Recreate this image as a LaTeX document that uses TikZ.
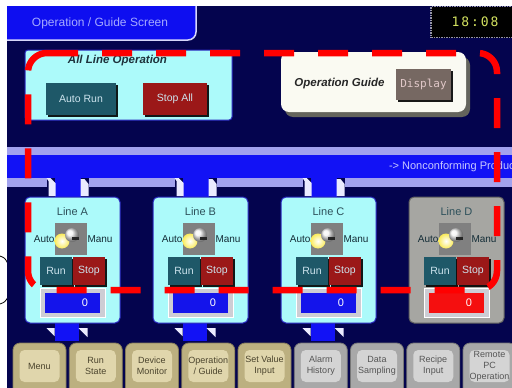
\documentclass[tikz,border=0pt]{standalone}
\usepackage{fontspec}
\setmainfont{Liberation Sans}
\setmonofont{DejaVu Sans Mono}
\newfontfamily\clockfont{DejaVu Sans Mono}[LetterSpace=15]
\usetikzlibrary{positioning,calc,shadows}
\definecolor{screencolor}{RGB}{4,4,78}
\definecolor{tabcolor}{RGB}{14,14,240}
\definecolor{tabrim}{RGB}{215,215,250}
\definecolor{tabtext}{RGB}{165,170,255}
\definecolor{clockrim}{RGB}{150,150,165}
\definecolor{clockdigit}{RGB}{210,225,95}
\definecolor{panelcyan}{RGB}{172,250,250}
\definecolor{panelrim}{RGB}{40,40,190}
\definecolor{panelgrey}{RGB}{166,166,162}
\definecolor{greyrim}{RGB}{95,95,95}
\definecolor{boxtext}{RGB}{30,50,60}
\definecolor{guidecolor}{RGB}{250,250,242}
\definecolor{guideshadow}{RGB}{100,100,92}
\definecolor{runcolor}{RGB}{30,88,104}
\definecolor{stopcolor}{RGB}{155,24,24}
\definecolor{btntext}{RGB}{205,228,238}
\definecolor{dispcolor}{RGB}{118,104,98}
\definecolor{disptext}{RGB}{225,200,200}
\definecolor{bandcolor}{RGB}{18,18,245}
\definecolor{railcolor}{RGB}{162,162,238}
\definecolor{flowcolor}{RGB}{200,200,255}
\definecolor{titlecolor}{RGB}{45,80,90}
\definecolor{labelcolor}{RGB}{20,45,55}
\definecolor{switchgrey}{RGB}{128,128,128}
\definecolor{glow}{RGB}{250,235,90}
\definecolor{framegrey}{RGB}{205,205,212}
\definecolor{countblue}{RGB}{20,20,235}
\definecolor{countred}{RGB}{245,15,15}
\definecolor{keygold}{RGB}{188,176,128}
\definecolor{keygoldface}{RGB}{224,214,172}
\definecolor{keygoldtext}{RGB}{75,68,45}
\definecolor{keygrey}{RGB}{168,168,168}
\definecolor{keygreyface}{RGB}{212,212,212}
\definecolor{keygreytext}{RGB}{85,85,85}
\definecolor{markred}{RGB}{255,0,0}

\begin{document}
\begin{tikzpicture}[
    x=1pt, y=-1pt,
    every node/.style={inner sep=0pt, outer sep=0pt},
    tabtitle/.style={font=\fontsize{12}{14}\selectfont, text=tabtext},
    clock/.style={rectangle, fill=black, draw=clockrim, densely dotted, line width=1.5pt, minimum width=88pt, minimum height=31pt, text=clockdigit, font=\clockfont\fontsize{13}{14}\selectfont},
    allbox/.style={rectangle, rounded corners=3pt, fill=panelcyan, draw=panelrim, line width=1pt, minimum width=207pt, minimum height=70pt},
    guidebox/.style={rectangle, rounded corners=8pt, fill=guidecolor, minimum width=185pt, minimum height=60pt, drop shadow={shadow xshift=4pt, shadow yshift=-5pt, fill=guideshadow, opacity=1}},
    boxtitle/.style={font=\fontsize{11.5}{13}\selectfont\bfseries\itshape, text=boxtext},
    opbtn/.style={rectangle, minimum height=32pt, font=\fontsize{10.5}{12}\selectfont, text=btntext, drop shadow={shadow xshift=2pt, shadow yshift=-2pt, fill=black, opacity=0.9}},
    dispbtn/.style={opbtn, fill=dispcolor, minimum width=55pt, minimum height=31pt, text=disptext, font=\ttfamily\fontsize{11}{12}\selectfont},
    flowtext/.style={font=\fontsize{11}{13}\selectfont, text=flowcolor},
    bevel/.style={fill=white!92!blue},
    linebox/.style={rectangle, rounded corners=5pt, line width=1pt, minimum width=95pt, minimum height=126pt},
    linetitle/.style={font=\fontsize{11}{13}\selectfont, text=titlecolor},
    sidelabel/.style={font=\fontsize{10}{12}\selectfont, text=labelcolor},
    switchbox/.style={rectangle, fill=switchgrey, minimum width=32pt, minimum height=32pt},
    linebtn/.style={rectangle, minimum width=32pt, minimum height=28pt, font=\fontsize{10.5}{12}\selectfont, text=btntext, drop shadow={shadow xshift=2pt, shadow yshift=-2pt, fill=black, opacity=0.9}},
    countframe/.style={rectangle, fill=framegrey, draw=white, line width=1pt, minimum width=65pt, minimum height=29pt},
    countfield/.style={rectangle, minimum width=55pt, minimum height=20pt, text width=31pt, align=right, text=white, font=\fontsize{11}{12}\selectfont},
    key/.style={rectangle, rounded corners=7pt, minimum width=53pt, minimum height=62pt, line width=0.8pt},
    keyface/.style={rectangle, rounded corners=5pt, minimum width=40pt, minimum height=32pt, align=center, font=\fontsize{9}{11}\selectfont},
    callout/.style={draw=black, line width=0.8pt},
    guide/.style={draw=markred, line width=6.5pt, dash pattern=on 30pt off 24pt, rounded corners=19pt}
]
\useasboundingbox (0,0) rectangle (512,388);

% ===== CALLOUT MARKS =====
\coordinate (markA) at (0,256);
\coordinate (markB) at (8,264);
\coordinate (markC) at (0,304);
\coordinate (markD) at (8,297);
\draw[callout] (markA) .. controls (5,258) .. (markB);
\draw[callout] (markC) .. controls (5,302) .. (markD);

\begin{scope}
\clip (7,6) rectangle (512,388);
\fill[screencolor] (7,6) rectangle (512,388);

% ===== HEADER =====
\fill[tabcolor, draw=tabrim, line width=1.5pt, rounded corners=8pt] (-10,-10) rectangle (196,40);
\node[tabtitle] (screentitle) at (100,23) {Operation / Guide Screen};
\node[clock] (clock) at (475,22) {18:08};

% ===== ALL LINE OPERATION =====
\node[allbox] (allpanel) at (128.5,85) {};
\node[boxtitle] (alltitle) at (117.5,61) {All Line Operation};
\node[opbtn, fill=runcolor, minimum width=70pt] (autorun) at (81,99) {Auto Run};
\node[opbtn, fill=stopcolor, minimum width=64pt] (stopall) at (175,99) {Stop All};

% ===== OPERATION GUIDE =====
\node[guidebox] (guidepanel) at (373.5,82) {};
\node[boxtitle, text=black!85] (guidetitle) at (339.5,84) {Operation Guide};
\node[dispbtn] (display) at (423.5,84.5) {Display};

% ===== CONVEYOR =====
\fill[railcolor] (7,147) rectangle (512,187);
\fill[bandcolor] (7,155) rectangle (512,178);
\node[flowtext, anchor=west] (reject) at (389,167) {-> Nonconforming Product};

% drops to the running lines and down to the keys
\foreach \cx in {72.5,200.5,328.5} {
    \fill[screencolor] (\cx-26,178) rectangle (\cx+16,188);
    \fill[bandcolor] (\cx-18,178) rectangle (\cx+8,199);
    \fill[bevel] (\cx-26,178) -- (\cx-22,178) -- (\cx-17,183) -- (\cx-17,196) -- (\cx-24,196) -- (\cx-24,181) -- cycle;
    \fill[bevel] (\cx+8,179) -- (\cx+12,179) -- (\cx+16,184) -- (\cx+16,196) -- (\cx+8,196) -- cycle;
    \fill[bandcolor] (\cx-18,322) rectangle (\cx+6,341);
    \fill[bevel] (\cx-26,328) -- (\cx-18,328) -- (\cx-18,336) -- cycle;
    \fill[bevel] (\cx+6,328) -- (\cx+15,328) -- (\cx+15,337) -- cycle;
}

% ===== LINE PANELS =====
\foreach \l/\cx/\pfill/\prim/\cfill in {A/72.5/panelcyan/panelrim/countblue, B/200.5/panelcyan/panelrim/countblue, C/328.5/panelcyan/panelrim/countblue, D/456.5/panelgrey/greyrim/countred} {
    \node[linebox, fill=\pfill, draw=\prim] (line\l) at (\cx,260) {};
    \node[linetitle] (title\l) at ($(line\l.north)+(0,15)$) {Line \l};
    \node[switchbox] (switch\l) at ($(line\l.center)+(-1.5,-21)$) {};
    \shade[inner color=white, outer color=glow] ($(switch\l.center)+(-9,2)$) circle (7.5);
    \shade[ball color=white!90!gray] ($(switch\l.center)+(1,-4)$) circle (7);
    \fill[black!85] ($(switch\l.center)+(1,-2)$) rectangle ($(switch\l.center)+(8,1)$);
    \node[sidelabel, left=0.5pt of switch\l] (auto\l) {Auto};
    \node[sidelabel, right=0.5pt of switch\l] (manu\l) {Manu};
    \node[linebtn, fill=runcolor] (run\l) at ($(line\l.center)+(-16.5,11)$) {Run};
    \node[linebtn, fill=stopcolor, right=1pt of run\l] (stop\l) {Stop};
    \node[countframe] (frame\l) at ($(line\l.center)+(0,42.5)$) {};
    \node[countfield, fill=\cfill] (count\l) at (frame\l) {0};
}

% ===== MENU KEYS =====
\foreach \txt/\kc/\kf/\kt [count=\i from 0] in {
    Menu/keygold/keygoldface/keygoldtext,
    {Run\\State}/keygold/keygoldface/keygoldtext,
    {Device\\Monitor}/keygold/keygoldface/keygoldtext,
    {Operation\\/ Guide}/keygold/keygoldface/keygoldtext,
    {Set Value\\Input}/keygold/keygoldface/keygoldtext,
    {Alarm\\History}/keygrey/keygreyface/keygreytext,
    {Data\\Sampling}/keygrey/keygreyface/keygreytext,
    {Recipe\\Input}/keygrey/keygreyface/keygreytext,
    {Remote\\PC\\Operation}/keygrey/keygreyface/keygreytext} {
    \node[key, fill=\kc, draw=\kc!70!black] (key\i) at (39.5+56.25*\i,374) {};
    \node[keyface, fill=\kf, text=\kt] (face\i) at (39.5+56.25*\i,366) {\txt};
}

% ===== GUIDE MARK =====
% open path, so the dash pattern starts at the top edge
\draw[guide] (48,53) -- (497,53) -- (497,290) -- (28,290) -- (28,53) -- (48,53);
\end{scope}

\end{tikzpicture}
\end{document}
